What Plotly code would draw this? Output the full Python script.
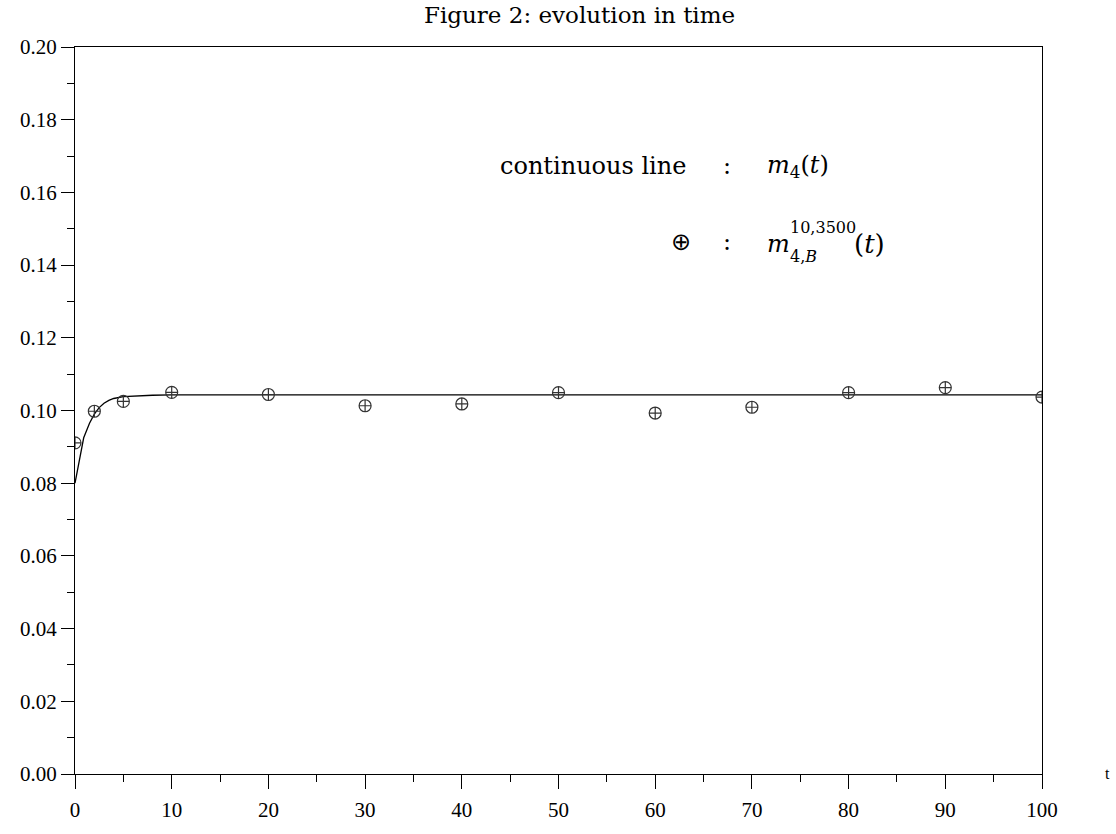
import plotly.graph_objects as go

# ---- data ----
curve_t = [0, 0.9, 1.5, 2, 2.5, 3, 3.5, 4, 5, 6, 8, 10, 20, 40, 60, 80, 100]
curve_m = [0.0800, 0.0925, 0.0965, 0.0990, 0.1008, 0.1020, 0.1028, 0.1033, 0.1038,
           0.1040, 0.1042, 0.1043, 0.1043, 0.1043, 0.1043, 0.1043, 0.1043]

sample_t = [0, 2, 5, 10, 20, 30, 40, 50, 60, 70, 80, 90, 100]
sample_m = [0.0911, 0.0998, 0.1025, 0.1050, 0.1044, 0.1013, 0.1018, 0.1049,
            0.0993, 0.1009, 0.1049, 0.1063, 0.1037]

x_ticks = [0, 10, 20, 30, 40, 50, 60, 70, 80, 90, 100]
y_ticks = [0.00, 0.02, 0.04, 0.06, 0.08, 0.10, 0.12, 0.14, 0.16, 0.18, 0.20]

W, H = 1116, 834
L, R, T, B = 75, 1042, 47, 786
SERIF = "Liberation Serif, Times New Roman, serif"
TEXTF = "DejaVu Serif, serif"

def px(x):
    return (x - L) / (R - L)

def py(y):
    return (B - y) / (B - T)

fig = go.Figure()
fig.add_trace(go.Scatter(x=curve_t, y=curve_m, mode="lines",
                         line=dict(color="black", width=1.3), showlegend=False))
fig.add_trace(go.Scatter(x=sample_t, y=sample_m, mode="markers",
                         marker=dict(symbol="circle-cross-open", size=12,
                                     color="#333333", line=dict(width=1.2)),
                         showlegend=False))

annots = []
def txt(x, y, s, size=24, xanchor="left", family=TEXTF):
    annots.append(dict(x=px(x), y=py(y), xref="paper", yref="paper", text=s,
                       showarrow=False, xanchor=xanchor, yanchor="middle",
                       font=dict(family=family, size=size, color="black")))

txt(579, 14, "Figure 2: evolution in time", size=23, xanchor="center")
txt(498, 168, "continuous line")
txt(727, 168, ":", xanchor="center")
txt(765, 168, "<i>m</i><sub>4</sub>(<i>t</i>)")
txt(681, 245, "⊕", size=24, xanchor="center", family="DejaVu Sans, sans-serif")
txt(727, 245, ":", xanchor="center")
txt(765, 247, "<i>m</i>")
txt(788, 230, "10,3500", size=16)
txt(788, 260, "4,<i>B</i>", size=16)
txt(852, 247, "(<i>t</i>)", size=26)
txt(1107, 785, "t", size=16, xanchor="center", family=SERIF)

fig.update_layout(
    width=W, height=H,
    margin=dict(l=L, r=W - R, t=T, b=H - B),
    plot_bgcolor="white", paper_bgcolor="white",
    font=dict(family=SERIF, size=21, color="black"),
    annotations=annots,
    xaxis=dict(range=[0, 100], tickvals=x_ticks, ticktext=[str(v) for v in x_ticks],
               showgrid=False, zeroline=False, showline=True, linecolor="black",
               linewidth=1.2, mirror=True, ticks="outside", ticklen=14,
               tickwidth=1.2, tickcolor="black", ticklabelstandoff=3,
               tickfont=dict(family=SERIF, size=21),
               minor=dict(dtick=5, ticks="outside", ticklen=7, tickwidth=1.2,
                          tickcolor="black", showgrid=False)),
    yaxis=dict(range=[0, 0.2], tickvals=y_ticks,
               ticktext=[f"{v:.2f}" for v in y_ticks],
               showgrid=False, zeroline=False, showline=True, linecolor="black",
               linewidth=1.2, mirror=True, ticks="outside", ticklen=13,
               tickwidth=1.2, tickcolor="black",
               tickfont=dict(family=SERIF, size=21),
               minor=dict(dtick=0.01, ticks="outside", ticklen=7, tickwidth=1.2,
                          tickcolor="black", showgrid=False)),
)

fig.write_html("out.html", config={"displayModeBar": False},
               post_script="document.body.style.margin='0';")
